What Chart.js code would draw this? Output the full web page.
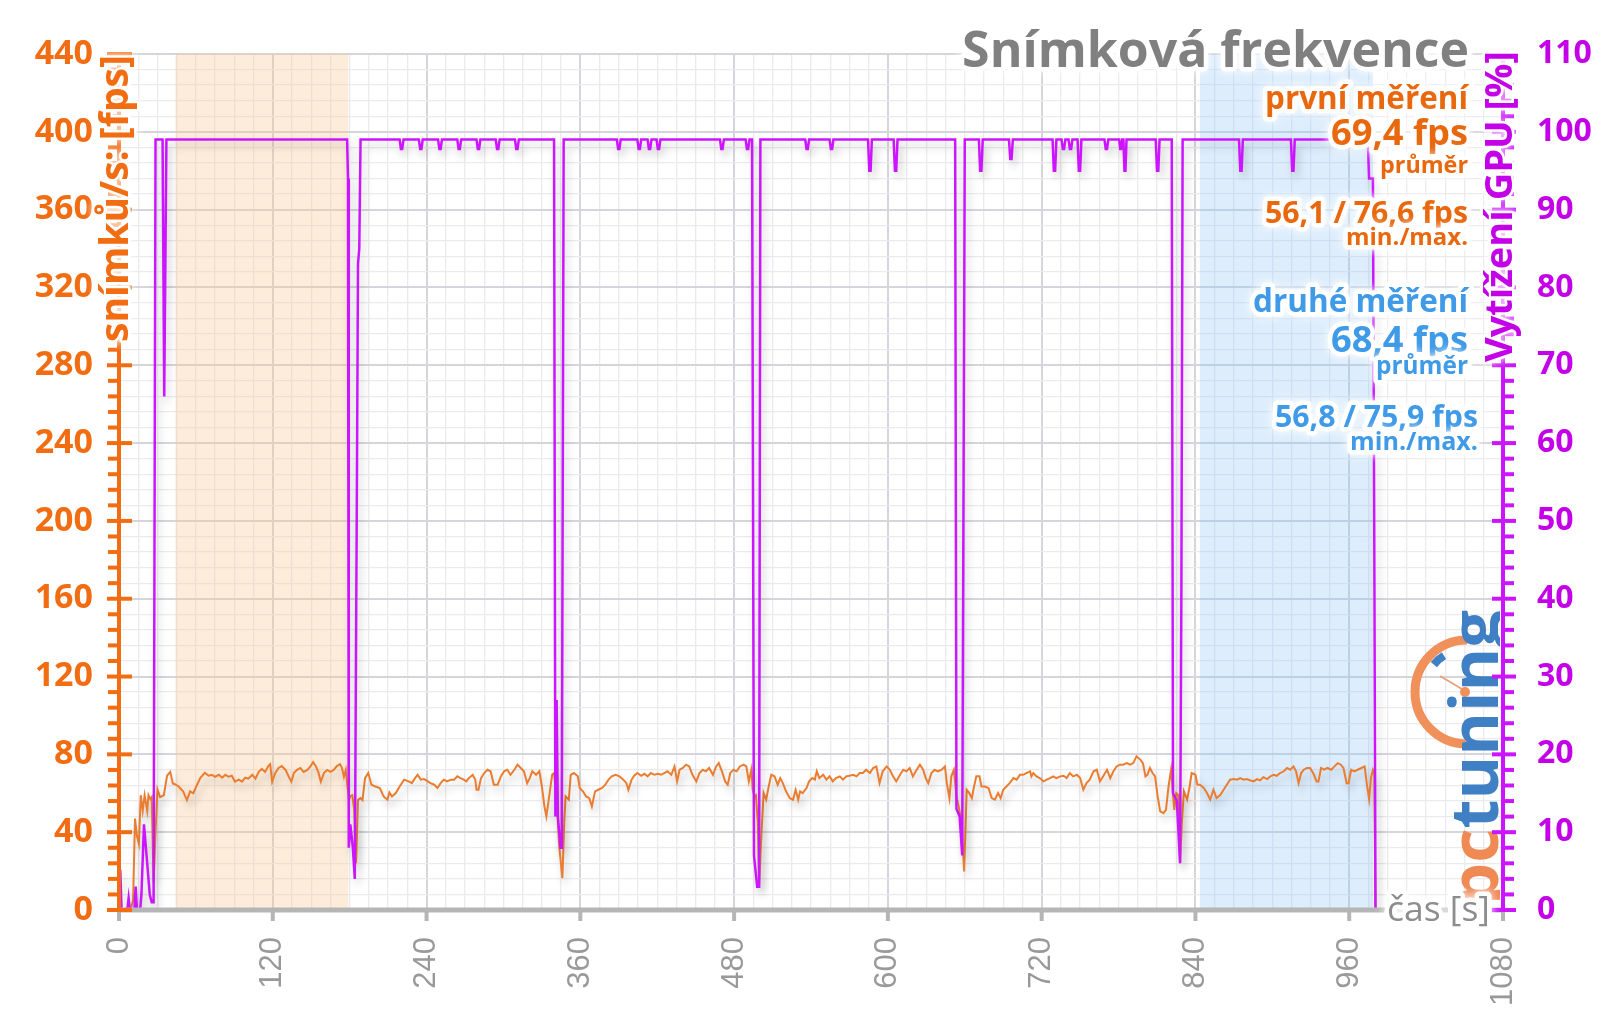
<!DOCTYPE html>
<html>
<head>
<meta charset="utf-8">
<script src="https://cdn.jsdelivr.net/npm/chart.js@4.4.1/dist/chart.umd.min.js"></script>
<style>
html, body { margin: 0; padding: 0; background: #fff; }
canvas { display: block; }
</style>
</head>
<body>
<canvas id="chart" width="1600" height="1009"></canvas>
<script>
// time [s] / fps
const fpsPoints = [
  [0,0],[3,0],[6,1],[9,0],[11,5],[12.5,47],[14,38],[15.5,34],[17,59],[18.5,51],[20,59],[22,51],[23,59],[24.5,57],[25.5,58],
  [27,14],[28.5,40],[30,62],[32,58],[35,59],[37.5,69],[40,71],[42,65],[44,64.5],[46.5,63.5],[50,61],[53,56.5],[55.5,61],
  [58,60],[61,64.5],[63.5,68],[67,70.5],[70,69],[72.5,69.5],[75,68.5],[78,69.5],[80.5,68],[83,69.5],[85.5,68.5],[88,69],
  [90.5,66],[93.5,67],[96,66],[98.5,68],[101,67.5],[104,69.5],[106.5,67.5],[109,71],[111.5,72.5],[114,71],[116.5,74],
  [118,75],[119.5,66],[122,70.5],[124.5,73],[127,74],[130,72],[132.5,68.5],[134.5,66],[136.5,70.5],[139,72],[141.5,73],
  [144,71],[147,72],[149.5,74],[151.5,76],[153.5,74],[155.5,71],[157.5,66],[160,70.5],[162.5,72],[165,71],[167.5,72],
  [170,74],[172.5,75],[174,73],[175.5,68.5],[177,72],[178,65],[179.5,56.5],[180.5,58.5],[182,59],[183.5,52],[185,24],
  [186.5,56.5],[188.5,57.5],[190,56.5],
  [192,67.8],[194.5,70.4],[197,64.4],[200,63.5],[203.5,62.7],[206.5,58.4],[209.5,56.7],[211,60.4],[213,58.4],[216,60.1],
  [219,63.5],[222.5,67],[226,66.1],[228.5,65.2],[231,67.8],[233,69.5],[235.5,67],[238,67.3],[240.5,66.4],[243,65.2],
  [246,64.4],[248.5,62.7],[251,65.2],[253.5,67],[256,66.1],[259,67],[261.5,67],[264,68.7],[266.5,67.8],[269,67],[271,66.1],
  [273,67.8],[276,69.5],[278,67],[279,61.8],[280.5,61.8],[282.5,67.8],[285,70.4],[287.5,72.1],[290,71.3],[292.5,64.4],
  [295.5,64.4],[298,68.7],[300.5,71.3],[303,72.1],[305.5,69.5],[308.5,72.1],[311,74.7],[313.5,73],[316,71.3],[318.5,65.2],
  [320.5,67.8],[322.5,71.3],[325.5,69.5],[328,71.3],[330,63.5],[332,53.2],[333.5,48.1],[335.5,57.5],[338,69.5],[339.5,70.4],
  [341.5,56.7],[343.5,32.7],[346,16.4],[347.5,46.4],[348.5,58.4],[351,56.7],[352.5,69.5],[355,70.4],[358,68.7],[359.5,62.7],
  [362,61],[364.5,58.4],[367,57.5],[369,53.2],[371.5,61],[374,61.8],[377,62.7],[379.5,64.4],[382,67],[384.5,68.7],[387.5,69.5],
  [390.5,68.7],[393.5,67],[396,65.2],[397.5,61.8],[400,67],[402,69],[404.5,70.4],[407.5,69],[410,70],[412.5,68.7],[415,70.4],
  [418,69.5],[420.5,70],[423,69.5],[425.5,70.4],[428,71.3],[431,69.5],[433.5,73.8],[435.5,66.1],[437.5,72.1],[440,73],
  [442.5,74.7],[445,73.8],[447.5,69.5],[450.5,66.1],[453,70.4],[455.5,72.1],[458,71.3],[460.5,73],[463.5,69.5],[466,73.8],
  [468,75.5],[470.5,71.3],[473,66.1],[475,64.4],[477,70.4],[479.5,72.1],[482,71.3],[484.5,73.8],[487.5,74.7],[489.5,73.8],
  [491.5,66.1],[493.5,72.1],[494.5,61.8],[496,58.4],[497,59],[498.5,45],[499.5,12],[501,35],[503,60.1],[505,56.7],[507,63.5],
  [509,69.5],[511.5,68.7],[514,64.4],[516,67.8],[518,65.2],[520.5,61],[523.5,57.5],[526,56.7],[528,61.8],[530,56.7],[531.5,61],
  [533.5,60.1],[536.5,62.7],[538.5,66.1],[541,67.8],[543,67],[544.5,71.3],[546.5,67.8],[549.5,69.5],[552,67],[554.5,68.7],
  [557,66.1],[559.5,67.8],[562.5,68.7],[565,67],[567.5,68.7],[570,69],[573,69.5],[575.5,68.7],[578,70.4],
  [580.5,70.4],[583,72.1],[586,70.4],[588.5,73],[591,73.8],[593.5,65.2],[596,71.3],[599,73.8],[601.5,72.1],[604,68.7],
  [606.5,66.1],[609.5,69.5],[612,72.1],[614.5,71.3],[617,73],[619.5,68.7],[622.5,72.1],[625,74.7],[627.5,72.1],[629.5,67.8],
  [631.5,65.2],[634,70.4],[636.5,72.1],[639,71.3],[642,72.1],[644.5,73.8],[646,65.2],[648,57.5],[649.5,68.7],[651.5,72.1],
  [653.5,58.4],[655.5,52.4],[657.5,45],[659.5,19.8],[661.5,61.8],[663.5,60.1],[665.5,57.5],[667,62.7],[669,68.7],[671.5,68.7],
  [673,63.5],[675.5,63.5],[678.5,62.7],[681,57.5],[683.5,56.7],[686,60.1],[688,57.5],[690,61.8],[692.5,63.5],[695,65.2],
  [698,67.8],[700.5,67],[703,69.5],[705.5,69.5],[708,70.4],[711,71.3],[712,68.7],[713.5,70.4],[716,68.7],[718.5,67.8],
  [721.5,66.1],[724,67],[726.5,67.8],[729,68.7],[731.5,67.8],[734.5,68.7],[737,69],[739.5,67.8],[742,70.4],[744.5,68.7],
  [747.5,69.5],[750,67.8],[752.5,61.8],[755,65.2],[757.5,67],[760.5,71.3],[763,72.1],[765.5,66.1],[768,68.7],[771,72.1],
  [773.5,67.8],[776,71.3],[778.5,73.8],[781,74.7],
  [783.5,74.7],[786.5,75.5],[789,74.7],[791.5,75.5],[794,79],[797,77.3],[799,75.5],[801,68.7],[802.5,69.5],[804.5,73],
  [806.5,70.4],[808.5,68.7],[810.5,58.4],[812.5,50.7],[815,49.8],[817,51.5],[819,63.5],[821,72.1],[822.5,59.2],[823.5,51.5],
  [825,60.1],[826.5,59.2],[828,24.1],[829.5,46.4],[831,61],[833.5,56.7],[835.5,63.5],[837,70.4],[840,69.5],[841.5,64.4],
  [843.5,64.4],[846.5,62.7],[849,60.1],[851.5,56.7],[854,61.8],[856.5,57.5],[859.5,59.2],[862,61.8],[864.5,64.4],[867,67],
  [870,67.3],[872.5,67],[875,67.8],[877.5,67],[880,67.3],[883,66.6],[885.5,66.1],[888,67.3],[890.5,66.6],[893,68.3],
  [896,67.3],[898.5,68.7],[901,69.5],[903.5,69],[906,70.4],[909,71.3],[911.5,73],[914,72.1],[916.5,73.8],[918.5,71.3],
  [920.5,65.2],[922.5,70.4],[924.5,72.1],[927,73],[929.5,73],[932.5,69.5],[934.5,66.1],[936,66.1],[938,73],[940.5,72.1],
  [943,73],[946,72.1],[948.5,73.8],[951,75.5],[953.5,74.7],[955.5,73],[958,65.2],[959.5,65.2],[961.5,72.1],[964,71.3],
  [966.5,72.1],[969.5,73],[972,73.8],[974,63.5],[975.5,57],[977,68],[978.5,72],[979.5,70],[980.5,0],[982,0]
];

// time [s] / GPU load [%]
const gpuPoints = [
  [0,5],[1,5],[2,0],[6.5,0],[7.5,1.5],[8.5,0],[12,0],[13,3],[14,0],[16.5,0],[17.5,2],[19.5,11],[21,8],[22.5,5],[24,2],
  [25.5,1],[27,1],[28.5,99],[34,99],[35.3,66],[37,99],
  [178,99],[178.7,94],[179.3,8],[180.5,11],[182.5,8],[184,4],[185.5,50],[186.5,83],[187.5,85],[188.5,99],
  [219,99],[220,97.8],[221,97.8],[222,99],[234,99],[235,97.8],[236,97.8],[237,99],
  [249,99],[250,97.8],[251,97.8],[252,99],[264,99],[265,97.8],[266,97.8],[267,99],
  [279,99],[280,97.8],[281,97.8],[282,99],[294,99],[295,97.8],[296,97.8],[297,99],
  [309,99],[310,97.8],[311,97.8],[312,99],
  [339.5,99],[340.5,12],[341.5,27],[342.5,12],[344.5,8],[345.5,8],[347,99],
  [388.5,99],[389.5,97.8],[390.5,97.8],[391.5,99],[404.5,99],[405.5,97.8],[406.5,97.8],[407.5,99],
  [412.5,99],[413.5,97.8],[414.5,97.8],[415.5,99],[419.5,99],[420.5,97.8],[421.5,97.8],[422.5,99],
  [469,99],[470,97.8],[471,97.8],[472,99],[489,99],[490,97.8],[491,97.8],[492,99],
  [494,99],[495.5,7],[498,3],[499.5,3],[500.5,99],
  [535.5,99],[536.5,97.8],[537.5,97.8],[538.5,99],[554.5,99],[555.5,97.8],[556.5,97.8],[557.5,99],
  [584.5,99],[585.5,95],[586.5,95],[587.5,99],[604.5,99],[605.5,95],[606.5,95],[607.5,99],
  [652.5,99],[653.5,13],[656,12],[658,7],[660,99],
  [671,99],[672,95],[673,95],[674,99],[694.5,99],[695.5,96.5],[696.5,96.5],[697.5,99],
  [728.5,99],[729.5,95],[730.5,95],[731.5,99],[735.5,99],[736.5,97.8],[737.5,97.8],[738.5,99],
  [741,99],[742,97.8],[743,97.8],[744,99],[748,99],[749,95],[750,95],[751,99],
  [769,99],[770,97.8],[771,97.8],[772,99],[780.5,99],[781.3,97.8],[782,97.8],[782.8,99],
  [783.8,99],[784.6,95],[785.4,95],[786.2,99],[809,99],[810,95],[811,95],[812,99],
  [821.5,99],[822.5,15],[825.5,14],[828,6],[829,40],[830,99],
  [874,99],[875,95],[876,95],[877,99],[914.5,99],[915.5,95],[916.5,95],[917.5,99],
  [974.5,99],[975.5,94],[978.5,94],[979.5,50],[980.5,0],[982,0]
];

const xTicks = [0, 120, 240, 360, 480, 600, 720, 840, 960, 1080];
const fpsTicks = [0, 40, 80, 120, 160, 200, 240, 280, 320, 360, 400, 440];
const gpuTicks = [0, 10, 20, 30, 40, 50, 60, 70, 80, 90, 100, 110];

// highlighted runs [s]
const firstRun = [44, 179];
const secondRun = [843.5, 978.5];

const ORANGE_AXIS = '#f26c12';
const ORANGE_TEXT = '#e9680e';
const ORANGE_LINE = '#eb7d30';
const MAGENTA = '#cc14ff';
const MAGENTA_TEXT = '#c400e8';
const BLUE_TEXT = '#3f9ae8';

function line(ctx, x0, y0, x1, y1) {
  ctx.beginPath();
  ctx.moveTo(x0, y0);
  ctx.lineTo(x1, y1);
  ctx.stroke();
}

function fitSize(ctx, text, weight, width) {
  ctx.font = `${weight} 100px "Open Sans"`;
  return 100 * width / ctx.measureText(text).width;
}

// text with a soft white halo, sized to a given width
function halo(ctx, text, x, y, width, weight, color, align, rot, glow = 9) {
  const size = fitSize(ctx, text, weight, width);
  ctx.save();
  ctx.translate(x, y);
  if (rot) ctx.rotate(rot);
  ctx.font = `${weight} ${size}px "Open Sans"`;
  ctx.textAlign = align;
  ctx.textBaseline = 'alphabetic';
  ctx.lineJoin = 'round';
  ctx.shadowColor = '#fff';
  ctx.shadowBlur = 10;
  ctx.strokeStyle = '#fff';
  ctx.lineWidth = glow;
  ctx.strokeText(text, 0, 0);
  ctx.shadowBlur = 0;
  ctx.fillStyle = color;
  ctx.fillText(text, 0, 0);
  ctx.restore();
}

function drawLogo(ctx) {
  ctx.save();
  const cx = 1467, cy = 692;
  ctx.strokeStyle = '#f0905a';
  ctx.lineWidth = 9;
  ctx.beginPath();
  ctx.arc(cx, cy, 52, Math.PI * 0.5, Math.PI * 1.5);
  ctx.stroke();
  ctx.strokeStyle = '#3f7fc4';
  ctx.lineWidth = 8;
  ctx.beginPath();
  ctx.arc(cx, cy, 43, Math.PI * 1.22, Math.PI * 1.32);
  ctx.stroke();
  ctx.strokeStyle = '#e8a080';
  ctx.lineWidth = 2;
  line(ctx, cx, cy, 1440, 676);
  ctx.fillStyle = '#f0905a';
  ctx.beginPath();
  ctx.arc(cx - 2, cy, 5, 0, Math.PI * 2);
  ctx.fill();

  ctx.beginPath();
  ctx.rect(1380, 560, 120, 360);
  ctx.clip();
  ctx.translate(1498, 905);
  ctx.rotate(-Math.PI / 2);
  const size = fitSize(ctx, 'pctuning', 'bold', 295);
  ctx.font = `bold ${size}px "Open Sans"`;
  ctx.textAlign = 'left';
  ctx.fillStyle = '#f08a55';
  ctx.fillText('pc', 0, 0);
  const w = ctx.measureText('pc').width;
  ctx.fillStyle = '#3f7fc4';
  ctx.fillText('tuning', w, 0);
  ctx.restore();
}

const bandsPlugin = {
  id: 'bands',
  beforeDatasetsDraw(chart) {
    const {ctx, chartArea: a, scales: {x}} = chart;
    ctx.save();
    let x0 = x.getPixelForValue(firstRun[0]);
    let x1 = x.getPixelForValue(firstRun[1]);
    ctx.fillStyle = 'rgba(250,200,150,0.35)';
    ctx.fillRect(x0, a.top, x1 - x0, a.bottom - a.top);
    x0 = x.getPixelForValue(secondRun[0]);
    x1 = x.getPixelForValue(secondRun[1]);
    ctx.fillStyle = 'rgba(150,200,245,0.32)';
    ctx.fillRect(x0, a.top, x1 - x0, a.bottom - a.top);
    ctx.restore();
  }
};

const shadowPlugin = {
  id: 'lineShadow',
  beforeDatasetDraw(chart) {
    const ctx = chart.ctx;
    ctx.save();
    ctx.shadowColor = 'rgba(0,0,0,0.22)';
    ctx.shadowBlur = 8;
    ctx.shadowOffsetX = 3;
    ctx.shadowOffsetY = 6;
  },
  afterDatasetDraw(chart) {
    chart.ctx.restore();
  }
};

const axesPlugin = {
  id: 'axes',
  afterDraw(chart) {
    const {ctx, chartArea: a, scales: {x, y, y1}} = chart;
    drawLogo(ctx);

    ctx.save();
    ctx.lineCap = 'butt';
    // time axis
    ctx.strokeStyle = '#b5b5b5';
    ctx.lineWidth = 5;
    line(ctx, a.left, a.bottom, a.right, a.bottom);
    ctx.lineWidth = 4;
    xTicks.forEach(v => {
      const px = x.getPixelForValue(v);
      line(ctx, px, a.bottom, px, a.bottom + 11);
    });
    // fps axis
    ctx.strokeStyle = ORANGE_AXIS;
    ctx.lineWidth = 4;
    line(ctx, a.left, a.bottom + 2, a.left, a.top - 2);
    y.ticks.forEach(t => {
      const py = y.getPixelForValue(t.value);
      if (fpsTicks.includes(t.value)) line(ctx, a.left - 12, py, a.left + 13, py);
      else line(ctx, a.left - 11, py, a.left, py);
    });
    // GPU axis
    ctx.strokeStyle = MAGENTA;
    line(ctx, a.right, a.bottom + 2, a.right, a.top - 2);
    y1.ticks.forEach(t => {
      const py = y1.getPixelForValue(t.value);
      if (gpuTicks.includes(t.value)) line(ctx, a.right - 11, py, a.right + 13, py);
      else line(ctx, a.right, py, a.right + 11, py);
    });
    ctx.restore();

    // titles and notes
    halo(ctx, 'snímků/s: [fps]', 128, 342, 287, 'bold', ORANGE_AXIS, 'left', -Math.PI / 2, 5);
    halo(ctx, 'Vytížení GPU [%]', 1512, 362, 311, 'bold', MAGENTA_TEXT, 'left', -Math.PI / 2, 5);
    halo(ctx, 'čas [s]', 1387, 921, 103, 'normal', '#8d8d8d', 'left');
    halo(ctx, 'Snímková frekvence', 1469, 67, 507, 'bold', '#808080', 'right');

    halo(ctx, 'první měření', 1468, 109, 203, 'bold', ORANGE_TEXT, 'right');
    halo(ctx, '69,4 fps', 1468, 145, 137, 'bold', ORANGE_TEXT, 'right');
    halo(ctx, 'průměr', 1468, 173, 88, 'bold', ORANGE_TEXT, 'right');
    halo(ctx, '56,1 / 76,6 fps', 1468, 223, 203, 'bold', ORANGE_TEXT, 'right');
    halo(ctx, 'min./max.', 1468, 245, 122, 'bold', ORANGE_TEXT, 'right');

    halo(ctx, 'druhé měření', 1468, 312, 215, 'bold', BLUE_TEXT, 'right');
    halo(ctx, '68,4 fps', 1468, 352, 137, 'bold', BLUE_TEXT, 'right');
    halo(ctx, 'průměr', 1468, 374, 92, 'bold', BLUE_TEXT, 'right');
    halo(ctx, '56,8 / 75,9 fps', 1478, 427, 203, 'bold', BLUE_TEXT, 'right');
    halo(ctx, 'min./max.', 1478, 450, 128, 'bold', BLUE_TEXT, 'right');
  }
};

const majorGrid = '#d5d5db';
const minorGrid = '#ebebef';

new Chart(document.getElementById('chart'), {
  type: 'line',
  data: {
    datasets: [
      {
        label: 'fps',
        data: fpsPoints.map(p => ({x: p[0], y: p[1]})),
        yAxisID: 'y',
        borderColor: ORANGE_LINE,
        borderWidth: 2,
        pointRadius: 0,
        tension: 0,
        order: 2
      },
      {
        label: 'GPU',
        data: gpuPoints.map(p => ({x: p[0], y: p[1]})),
        yAxisID: 'y1',
        borderColor: MAGENTA,
        borderWidth: 2.5,
        pointRadius: 0,
        tension: 0,
        order: 1
      }
    ]
  },
  options: {
    responsive: false,
    devicePixelRatio: 1,
    animation: false,
    events: [],
    layout: { padding: { top: 54, left: 0, right: 0, bottom: 0 } },
    plugins: { legend: { display: false }, tooltip: { enabled: false } },
    scales: {
      x: {
        type: 'linear',
        min: 0,
        max: 1080,
        afterFit: s => { s.height = 99; },
        border: { display: false },
        grid: {
          drawTicks: false,
          color: c => xTicks.includes(c.tick.value) ? majorGrid : minorGrid,
          lineWidth: c => xTicks.includes(c.tick.value) ? 2 : 1.3
        },
        ticks: {
          stepSize: 15,
          autoSkip: false,
          minRotation: 90,
          maxRotation: 90,
          padding: 27,
          color: '#999999',
          font: { family: "'Liberation Sans Narrow', 'Liberation Sans', sans-serif", size: 31 },
          callback: v => xTicks.includes(v) ? String(v) : ''
        }
      },
      y: {
        position: 'left',
        min: 0,
        max: 440,
        afterFit: s => { s.width = 119; },
        border: { display: false },
        grid: {
          drawTicks: false,
          color: c => fpsTicks.includes(c.tick.value) ? majorGrid : minorGrid,
          lineWidth: c => fpsTicks.includes(c.tick.value) ? 2 : 1.3
        },
        ticks: {
          stepSize: 8,
          autoSkip: false,
          padding: 26,
          color: ORANGE_AXIS,
          font: { family: "'Open Sans'", size: 34, weight: 'bold' },
          callback: v => fpsTicks.includes(v) ? String(v) : ''
        }
      },
      y1: {
        position: 'right',
        min: 0,
        max: 110,
        afterFit: s => { s.width = 97; },
        border: { display: false },
        grid: { drawOnChartArea: false, drawTicks: false },
        ticks: {
          stepSize: 2,
          autoSkip: false,
          padding: 34,
          color: MAGENTA_TEXT,
          font: { family: "'Open Sans'", size: 32, weight: 'bold' },
          callback: v => gpuTicks.includes(v) ? String(v) : ''
        }
      }
    }
  },
  plugins: [bandsPlugin, shadowPlugin, axesPlugin]
});
</script>
</body>
</html>
